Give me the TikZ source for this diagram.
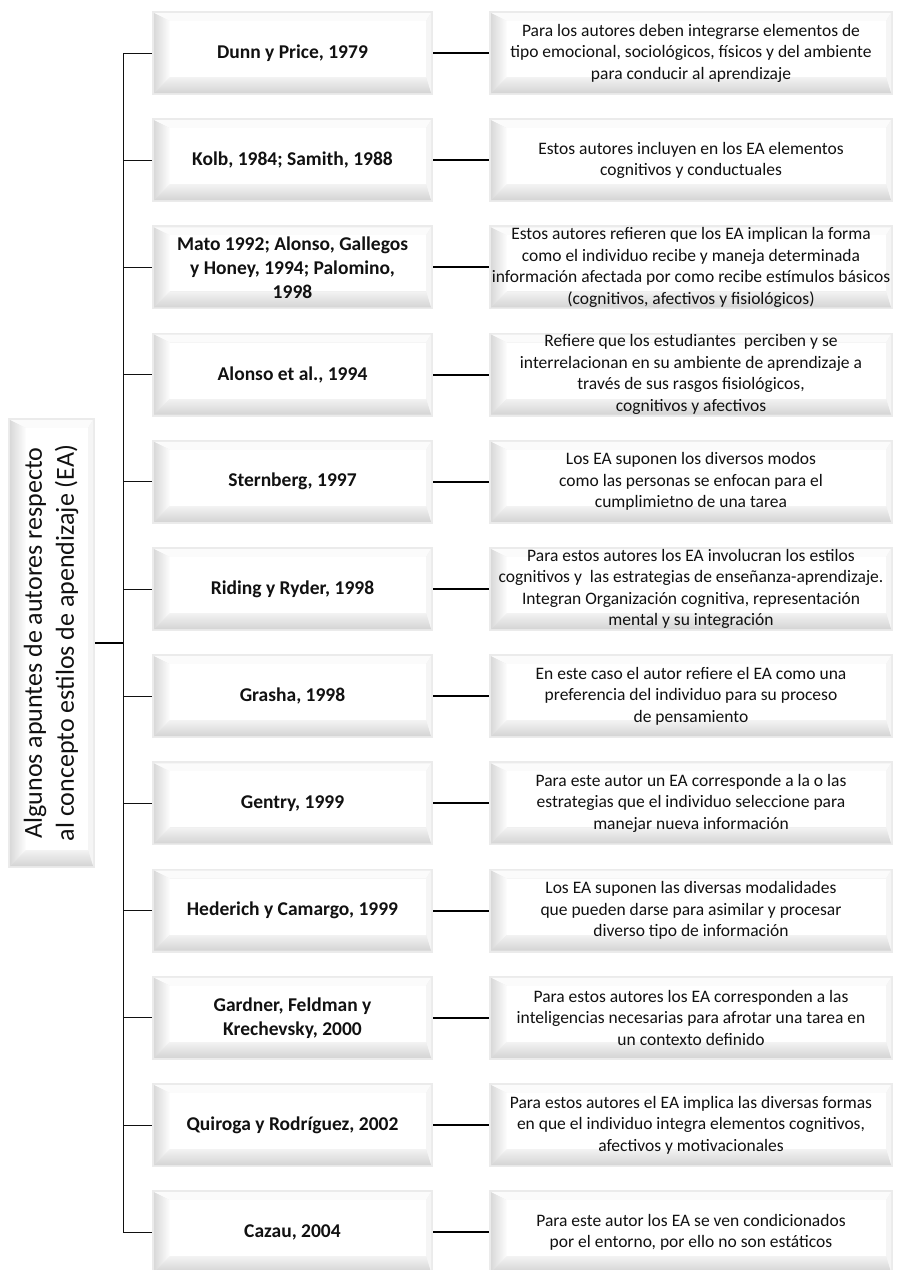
\documentclass[tikz,border=0pt]{standalone}
\usepackage{fontspec}
\setmainfont{Carlito}
\usetikzlibrary{calc}

\definecolor{rimgray}{HTML}{EBEBEB}
\definecolor{bevtopc}{HTML}{FBFBFB}
\definecolor{bevrightc}{HTML}{F5F5F5}
\definecolor{bevleftout}{HTML}{D9D9D9}
\definecolor{bevleftin}{HTML}{FEFEFE}
\definecolor{bevbotout}{HTML}{D4D4D4}
\definecolor{bevbotin}{HTML}{F3F3F3}
\definecolor{inkc}{HTML}{111111}

% rim and bevel widths (left, bottom, top, right)
\newcommand{\rimw}{2pt}
\newcommand{\bevl}{16pt}
\newcommand{\bevb}{16pt}
\newcommand{\bevt}{8pt}
\newcommand{\bevr}{5pt}

\tikzset{
  bevelbox/.style={rectangle, inner sep=0pt, outer sep=0pt, align=center,
    fill=rimgray, text=inkc,
    path picture={
      \path (path picture bounding box.south west) coordinate (q1)
            (path picture bounding box.north east) coordinate (q3);
      \path ([shift={(\rimw,\rimw)}]q1) coordinate (oA)
            ([shift={(-\rimw,-\rimw)}]q3) coordinate (oC);
      \path (oA |- oC) coordinate (oD)
            (oC |- oA) coordinate (oB)
            ([shift={(\bevl,\bevb)}]oA) coordinate (iA)
            ([shift={(-\bevr,-\bevt)}]oC) coordinate (iC);
      \path (iA |- iC) coordinate (iD)
            (iC |- iA) coordinate (iB);
      \fill[bevtopc] (oD) -- (oC) -- (iC) -- (iD) -- cycle;
      \fill[bevrightc] (oC) -- (oB) -- (iB) -- (iC) -- cycle;
      \shade[left color=bevleftout, right color=bevleftin]
            (oA) -- (oD) -- (iD) -- (iA) -- cycle;
      \shade[bottom color=bevbotout, top color=bevbotin]
            (oA) -- (oB) -- (iB) -- (iA) -- cycle;
      \fill[white] (iA) rectangle (iC);
    }},
  authorbox/.style={bevelbox, minimum width=281pt, minimum height=84pt,
    font=\bfseries\fontsize{19.5}{24}\selectfont},
  notebox/.style={bevelbox, minimum width=404pt, minimum height=84pt,
    font=\fontsize{17.5}{21.5}\selectfont},
  titlebox/.style={bevelbox, minimum width=87pt, minimum height=450pt,
    font=\fontsize{26}{32}\selectfont},
  tick/.style={draw=inkc, line width=0.9pt},
  link/.style={draw=black, line width=2pt},
}

\begin{document}
\begin{tikzpicture}[x=1pt, y=-1pt]
\useasboundingbox (0,0) rectangle (906,1270);

% author column
\foreach \i/\txt in {
  1/{Dunn y Price, 1979},
  2/{Kolb, 1984; Samith, 1988},
  3/{Mato 1992; Alonso, Gallegos\\y Honey, 1994; Palomino,\\1998},
  4/{Alonso et al., 1994},
  5/{Sternberg, 1997},
  6/{Riding y Ryder, 1998},
  7/{Grasha, 1998},
  8/{Gentry, 1999},
  9/{Hederich y Camargo, 1999},
  10/{Gardner, Feldman y\\Krechevsky, 2000},
  11/{Quiroga y Rodríguez, 2002},
  12/{Cazau, 2004}}
  \node[authorbox] (a\i) at (292.5, {53 + (\i-1)*107.2}) {\txt};

% description column
\foreach \i/\txt in {
  1/{Para los autores deben integrarse elementos de\\tipo emocional, sociológicos, físicos y del ambiente\\para conducir al aprendizaje},
  2/{Estos autores incluyen en los EA elementos\\cognitivos y conductuales},
  3/{Estos autores refieren que los EA implican la forma\\como el individuo recibe y maneja determinada\\información afectada por como recibe estímulos básicos\\(cognitivos, afectivos y fisiológicos)},
  4/{Refiere que los estudiantes\ \ perciben y se\\interrelacionan en su ambiente de aprendizaje a\\través de sus rasgos fisiológicos,\\cognitivos y afectivos},
  5/{Los EA suponen los diversos modos\\como las personas se enfocan para el\\cumplimietno de una tarea},
  6/{Para estos autores los EA involucran los estilos\\cognitivos y\ \ las estrategias de enseñanza-aprendizaje.\\Integran Organización cognitiva, representación\\mental y su integración},
  7/{En este caso el autor refiere el EA como una\\preferencia del individuo para su proceso\\de pensamiento},
  8/{Para este autor un EA corresponde a la o las\\estrategias que el individuo seleccione para\\manejar nueva información},
  9/{Los EA suponen las diversas modalidades\\que pueden darse para asimilar y procesar\\diverso tipo de información},
  10/{Para estos autores los EA corresponden a las\\inteligencias necesarias para afrotar una tarea en\\un contexto definido},
  11/{Para estos autores el EA implica las diversas formas\\en que el individuo integra elementos cognitivos,\\afectivos y motivacionales},
  12/{Para este autor los EA se ven condicionados\\por el entorno, por ello no son estáticos}}
  \node[notebox] (d\i) at (691, {53 + (\i-1)*107.2}) {\txt};

% title box
\node[titlebox] (t) at (51.5, 643) {\rotatebox{90}{\begin{tabular}{@{}c@{}}Algunos apuntes de autores respecto\\al concepto estilos de apendizaje (EA)\end{tabular}}};

% bracket
\coordinate (sp) at (123, 643);
\draw[link, line width=1.8pt] (t.east) -- (sp);
\draw[tick] (a1.west -| sp) -- (a12.west -| sp);
\foreach \i in {1,...,12} {
  \draw[tick] (a\i.west -| sp) -- (a\i.west);
  \draw[link] (a\i.east) -- (d\i.west);
}
\end{tikzpicture}
\end{document}
